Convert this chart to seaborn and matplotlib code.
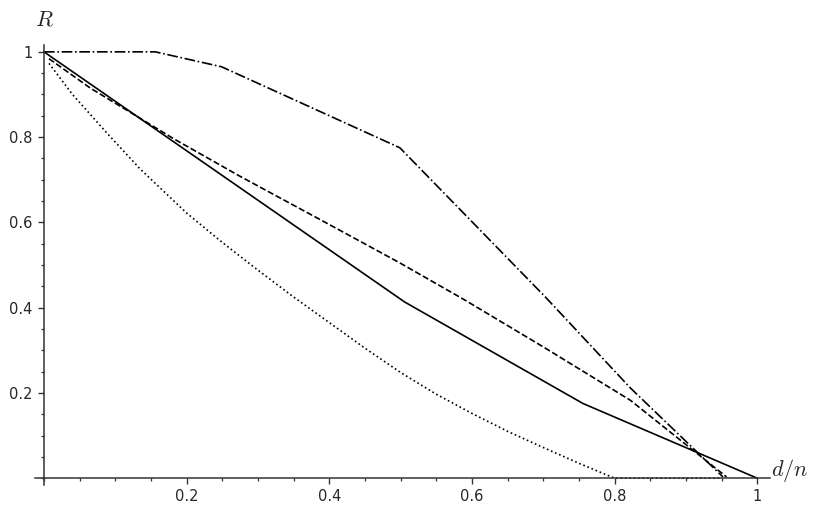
import numpy as np
import pandas as pd
import matplotlib
matplotlib.use("Agg")
import matplotlib.pyplot as plt
from matplotlib.ticker import MultipleLocator, FixedLocator
import seaborn as sns

# values (d/n, R)
solid_x = [0.0, 0.506, 0.756, 1.0]
solid_y = [1.0, 0.413, 0.175, 0.0]

dashed_x = [0.007, 0.065, 0.135, 0.181, 0.275, 0.4, 0.5, 0.59, 0.7, 0.822, 0.906, 0.957]
dashed_y = [0.984, 0.915, 0.844, 0.797, 0.708, 0.595, 0.504, 0.418, 0.308, 0.183, 0.071, 0.003]

dashdot_x = [0.0, 0.156, 0.249, 0.499, 0.703, 0.822, 0.952]
dashdot_y = [1.0, 1.0, 0.965, 0.775, 0.425, 0.212, 0.003]

dotted_x = [0.007, 0.04, 0.088, 0.135, 0.2, 0.25, 0.3, 0.35, 0.4, 0.45, 0.5,
            0.55, 0.6, 0.65, 0.7, 0.75, 0.8, 0.95]
dotted_y = [0.973, 0.9, 0.81, 0.725, 0.622, 0.553, 0.488, 0.425, 0.365, 0.305, 0.248,
            0.197, 0.152, 0.11, 0.072, 0.035, 0.0, 0.0]

sns.set_style("white")
plt.rcParams['font.family'] = ['DejaVu Sans']
plt.rcParams['mathtext.fontset'] = 'cm'

fig = plt.figure(figsize=(8.31, 5.14), dpi=100)
ax = fig.add_axes([0.0421, 0.0564, 0.8845, 0.856])

series = [
    (solid_x, solid_y, '-'),
    (dashed_x, dashed_y, '--'),
    (dashdot_x, dashdot_y, '-.'),
    (dotted_x, dotted_y, ':'),
]
for xs, ys, ls in series:
    df = pd.DataFrame({'d/n': xs, 'R': ys})
    sns.lineplot(data=df, x='d/n', y='R', sort=False, color='black',
                 linestyle=ls, linewidth=1.2, ax=ax)

ax.set_xlim(-0.0126, 1.018)
ax.set_ylim(-0.016, 1.016)

for s in ['top', 'right']:
    ax.spines[s].set_visible(False)
ax.spines['left'].set_position(('data', 0))
ax.spines['bottom'].set_position(('data', 0))
for s in ['left', 'bottom']:
    ax.spines[s].set_color('#333333')
    ax.spines[s].set_linewidth(1.1)

ax.xaxis.set_major_locator(FixedLocator([0.2, 0.4, 0.6, 0.8, 1.0]))
ax.yaxis.set_major_locator(FixedLocator([0.2, 0.4, 0.6, 0.8, 1.0]))
ax.xaxis.set_minor_locator(MultipleLocator(0.05))
ax.yaxis.set_minor_locator(MultipleLocator(0.05))
ax.set_xticklabels(['0.2', '0.4', '0.6', '0.8', '1'])
ax.set_yticklabels(['0.2', '0.4', '0.6', '0.8', '1'])
ax.tick_params(which='both', bottom=True, left=True, top=False, right=False)
ax.tick_params(which='major', direction='out', length=4, width=1, color='#333333',
               labelsize=10.5, pad=4)
ax.tick_params(which='minor', direction='out', length=2.2, width=0.9, color='#333333')

ax.set_xlabel('')
ax.set_ylabel('')
fig.text(44 / 831, 1 - 20 / 514, r'$R$', fontsize=16, ha='center', va='center')
fig.text(790 / 831, 1 - 470 / 514, r'$d/n$', fontsize=16, ha='center', va='center')

fig.savefig('out.png', dpi=100)
